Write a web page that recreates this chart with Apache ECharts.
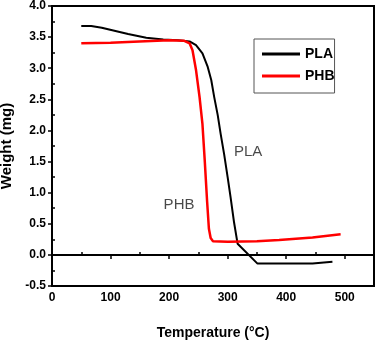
<!DOCTYPE html>
<html>
<head>
<meta charset="utf-8">
<script src="https://cdn.jsdelivr.net/npm/echarts@6/dist/echarts.min.js"></script>
<style>
html,body{margin:0;padding:0;background:#fff;}
#chart{width:378px;height:342px;}
</style>
</head>
<body>
<div id="chart"></div>
<script>
var plaT = [50, 67, 85, 103, 130, 161, 190, 215, 235, 246, 257, 266, 272, 277, 283, 288, 294, 300, 305, 311, 317, 351, 400, 445, 479];
var plaW = [3.68, 3.68, 3.65, 3.61, 3.55, 3.49, 3.46, 3.45, 3.43, 3.37, 3.24, 3.02, 2.81, 2.54, 2.25, 1.95, 1.62, 1.25, 0.93, 0.52, 0.18, -0.14, -0.14, -0.14, -0.11];
var phbT = [50, 100, 149, 200, 226, 235, 240, 246, 252, 257, 261, 265, 268, 271, 275, 300, 350, 388, 445, 493];
var phbW = [3.40, 3.41, 3.43, 3.45, 3.44, 3.40, 3.29, 2.97, 2.54, 2.10, 1.50, 0.85, 0.42, 0.27, 0.22, 0.21, 0.22, 0.24, 0.28, 0.33];
var seriesNames = ['PLA', 'PHB'];
var annoText = ['PLA', 'PHB'];
var annoT = [335, 217];
var annoW = [1.65, 0.80];
var xTicks = [0, 100, 200, 300, 400, 500];
var yTicks = [-0.5, 0.0, 0.5, 1.0, 1.5, 2.0, 2.5, 3.0, 3.5, 4.0];

function pairs(xs, ys) { return xs.map(function (x, i) { return [x, ys[i]]; }); }

var FONT = '"Liberation Sans", Arial, sans-serif';
var chart = echarts.init(document.getElementById('chart'));
var xBase = { type: 'value', min: 0, max: 550, interval: 100, position: 'bottom' };
var yBase = { type: 'value', min: -0.5, max: 4.0, interval: 0.5, position: 'left' };
chart.setOption({
  animation: false,
  grid: { left: 52, top: 6, right: 4, bottom: 56, containLabel: false, outerBoundsMode: 'none', show: true, borderColor: '#000', borderWidth: 2, backgroundColor: 'transparent' },
  xAxis: [
    Object.assign({}, xBase, {
      name: 'Temperature (°C)', nameLocation: 'middle', nameGap: 40,
      nameTextStyle: { fontFamily: FONT, fontWeight: 'bold', fontSize: 14, color: '#000' },
      axisLine: { lineStyle: { color: '#000', width: 2 } },
      axisTick: { show: true, length: 4, lineStyle: { color: '#000', width: 1.5 } },
      minorTick: { show: false },
      splitLine: { show: false },
      axisLabel: {
        fontFamily: FONT, fontWeight: 'bold', fontSize: 12, color: '#000', margin: 6,
        formatter: function (v) { return xTicks.indexOf(v) >= 0 ? String(v) : ''; }
      }
    }),
    Object.assign({}, xBase, {
      axisLine: { show: false },
      axisTick: { show: false, inside: true },
      minorTick: { show: true, splitNumber: 2, length: 3, lineStyle: { color: '#000', width: 1.5 } },
      axisLabel: { show: false }, splitLine: { show: false }
    })
  ],
  yAxis: [
    Object.assign({}, yBase, {
      name: 'Weight (mg)', nameLocation: 'middle', nameGap: 36, nameRotate: 90,
      nameTextStyle: { fontFamily: FONT, fontWeight: 'bold', fontSize: 15, color: '#000' },
      axisLine: { lineStyle: { color: '#000', width: 2 } },
      axisTick: { show: true, length: 4, lineStyle: { color: '#000', width: 1.5 } },
      minorTick: { show: false },
      splitLine: { show: false },
      axisLabel: {
        fontFamily: FONT, fontWeight: 'bold', fontSize: 12, color: '#000', margin: 6,
        formatter: function (v) { return yTicks.indexOf(v) >= 0 ? v.toFixed(1) : ''; }
      }
    }),
    Object.assign({}, yBase, {
      axisLine: { show: false },
      axisTick: { show: false, inside: true },
      minorTick: { show: true, splitNumber: 2, length: 3, lineStyle: { color: '#000', width: 1.5 } },
      axisLabel: { show: false }, splitLine: { show: false }
    })
  ],
  legend: {
    orient: 'vertical', left: 254, top: 39,
    data: seriesNames.map(function (n) { return { name: n, icon: 'rect' }; }),
    itemWidth: 38, itemHeight: 3, itemGap: 8,
    padding: [8, 0, 10, 8],
    borderColor: '#555', borderWidth: 1,
    textStyle: { fontFamily: FONT, fontWeight: 'bold', fontSize: 14, color: '#000' }
  },
  series: [
    {
      name: seriesNames[0], type: 'line', symbol: 'none',
      data: pairs(plaT, plaW),
      lineStyle: { color: '#000', width: 2 }, itemStyle: { color: '#000' }
    },
    {
      name: seriesNames[1], type: 'line', symbol: 'none',
      data: pairs(phbT, phbW),
      lineStyle: { color: '#ff0000', width: 2.5 }, itemStyle: { color: '#ff0000' }
    },
    {
      type: 'scatter', symbolSize: 0, silent: true,
      data: annoT.map(function (t, i) { return { value: [t, annoW[i]], name: annoText[i] }; }),
      label: {
        show: true, position: 'inside', formatter: '{b}',
        fontFamily: FONT, fontSize: 15, color: '#1a1a1a'
      }
    }
  ]
});
</script>
</body>
</html>
